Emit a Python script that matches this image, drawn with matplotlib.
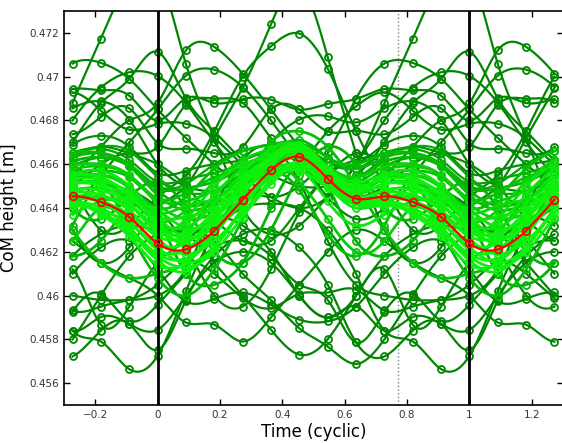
import numpy as np
import matplotlib
matplotlib.use("Agg")
from matplotlib import pyplot as plt

# phase samples per cycle: k/11, k = 0..10 ; plot runs over k = -3..14
n_phase = 11
k_first, k_last = -3, 14

# red mean trajectory (CoM height, m)
mean_com = [0.46238, 0.46211, 0.46297, 0.46438, 0.46572, 0.46633,
            0.46534, 0.46443, 0.46453, 0.46427, 0.46359]

# bright cluster of cycles close to the mean
band_curves = [
    [0.4629, 0.4629, 0.4636, 0.4647, 0.4658, 0.4663, 0.4655, 0.4648, 0.4651, 0.4650, 0.4642],
    [0.4619, 0.4617, 0.4628, 0.4644, 0.4654, 0.4657, 0.4649, 0.4642, 0.4642, 0.4638, 0.4630],
    [0.4636, 0.4636, 0.4640, 0.4649, 0.4657, 0.4660, 0.4651, 0.4646, 0.4651, 0.4652, 0.4647],
    [0.4644, 0.4643, 0.4648, 0.4654, 0.4660, 0.4663, 0.4655, 0.4650, 0.4657, 0.4659, 0.4655],
    [0.4626, 0.4619, 0.4625, 0.4638, 0.4653, 0.4661, 0.4653, 0.4645, 0.4647, 0.4646, 0.4639],
    [0.4649, 0.4649, 0.4652, 0.4658, 0.4663, 0.4665, 0.4657, 0.4654, 0.4661, 0.4663, 0.4659],
    [0.4616, 0.4611, 0.4622, 0.4640, 0.4656, 0.4665, 0.4656, 0.4645, 0.4643, 0.4638, 0.4629],
    [0.4639, 0.4631, 0.4634, 0.4644, 0.4655, 0.4658, 0.4643, 0.4632, 0.4637, 0.4643, 0.4644],
    [0.4632, 0.4633, 0.4646, 0.4658, 0.4665, 0.4666, 0.4651, 0.4640, 0.4643, 0.4645, 0.4641],
    [0.4652, 0.4653, 0.4656, 0.4660, 0.4665, 0.4668, 0.4661, 0.4658, 0.4665, 0.4667, 0.4662],
    [0.4627, 0.4627, 0.4639, 0.4654, 0.4663, 0.4665, 0.4652, 0.4642, 0.4644, 0.4643, 0.4637],
    [0.4621, 0.4621, 0.4634, 0.4650, 0.4662, 0.4666, 0.4657, 0.4650, 0.4649, 0.4643, 0.4634],
    [0.4642, 0.4635, 0.4638, 0.4648, 0.4659, 0.4666, 0.4659, 0.4654, 0.4659, 0.4660, 0.4655],
    [0.4634, 0.4639, 0.4652, 0.4662, 0.4667, 0.4667, 0.4653, 0.4645, 0.4648, 0.4649, 0.4644],
    [0.4614, 0.4615, 0.4628, 0.4646, 0.4661, 0.4669, 0.4658, 0.4646, 0.4643, 0.4637, 0.4627],
    [0.4646, 0.4639, 0.4642, 0.4650, 0.4661, 0.4669, 0.4663, 0.4660, 0.4665, 0.4665, 0.4659],
    [0.4630, 0.4625, 0.4632, 0.4643, 0.4654, 0.4659, 0.4650, 0.4644, 0.4648, 0.4648, 0.4642],
    [0.4638, 0.4641, 0.4644, 0.4652, 0.4661, 0.4664, 0.4655, 0.4649, 0.4654, 0.4655, 0.4649],
    [0.4654, 0.4647, 0.4648, 0.4656, 0.4665, 0.4669, 0.4659, 0.4654, 0.4663, 0.4668, 0.4666],
    [0.4624, 0.4624, 0.4636, 0.4652, 0.4663, 0.4666, 0.4654, 0.4644, 0.4645, 0.4643, 0.4636],
    [0.4618, 0.4613, 0.4620, 0.4636, 0.4651, 0.4659, 0.4651, 0.4643, 0.4643, 0.4640, 0.4631],
    [0.4640, 0.4645, 0.4658, 0.4666, 0.4669, 0.4668, 0.4656, 0.4649, 0.4653, 0.4655, 0.4650],
    [0.4633, 0.4626, 0.4631, 0.4642, 0.4656, 0.4665, 0.4658, 0.4652, 0.4655, 0.4654, 0.4646],
    [0.4648, 0.4641, 0.4644, 0.4654, 0.4665, 0.4671, 0.4663, 0.4658, 0.4663, 0.4665, 0.4660],
    [0.4628, 0.4635, 0.4650, 0.4660, 0.4663, 0.4663, 0.4650, 0.4642, 0.4645, 0.4645, 0.4639],
    [0.4636, 0.4627, 0.4632, 0.4646, 0.4661, 0.4665, 0.4653, 0.4648, 0.4655, 0.4657, 0.4650],
    [0.4644, 0.4647, 0.4654, 0.4658, 0.4663, 0.4665, 0.4653, 0.4648, 0.4655, 0.4657, 0.4654],
    [0.4622, 0.4615, 0.4622, 0.4640, 0.4659, 0.4667, 0.4655, 0.4642, 0.4641, 0.4639, 0.4633],
    [0.4632, 0.4623, 0.4628, 0.4646, 0.4663, 0.4669, 0.4657, 0.4650, 0.4653, 0.4653, 0.4646],
    [0.4650, 0.4651, 0.4660, 0.4666, 0.4669, 0.4669, 0.4657, 0.4652, 0.4659, 0.4663, 0.4660],
    [0.4656, 0.4657, 0.4660, 0.4662, 0.4667, 0.4669, 0.4661, 0.4660, 0.4669, 0.4673, 0.4668],
    [0.4634, 0.4631, 0.4642, 0.4656, 0.4667, 0.4669, 0.4657, 0.4648, 0.4651, 0.4651, 0.4645],
]

# darker cycles far from the mean
outlier_curves = [
    [0.4748, 0.47058, 0.4672, 0.4640, 0.4628, 0.4632, 0.4645, 0.4660, 0.4688, 0.47173, 0.4745],
    [0.4640, 0.4650, 0.4672, 0.4695, 0.4724, 0.4742, 0.4709, 0.4665, 0.4630, 0.4615, 0.4622],
    [0.4645, 0.4655, 0.4675, 0.4700, 0.47139, 0.47197, 0.47037, 0.4675, 0.4650, 0.4630, 0.4632],
    [0.4685, 0.4672, 0.4660, 0.4650, 0.4645, 0.4650, 0.4665, 0.4690, 0.4706, 0.47063, 0.4699],
    [0.47113, 0.4690, 0.4675, 0.4662, 0.4655, 0.4650, 0.4650, 0.4655, 0.4670, 0.4688, 0.4699],
    [0.4688, 0.4712, 0.47136, 0.47014, 0.4685, 0.4668, 0.4655, 0.4648, 0.4655, 0.4668, 0.4680],
    [0.4685, 0.47005, 0.47032, 0.46953, 0.4680, 0.4662, 0.4645, 0.4635, 0.4640, 0.4655, 0.4670],
    [0.47003, 0.4688, 0.4670, 0.4655, 0.4645, 0.4640, 0.4645, 0.4660, 0.4680, 0.4695, 0.4702],
    [0.4680, 0.46901, 0.4688, 0.46898, 0.46895, 0.4685, 0.46875, 0.46898, 0.46944, 0.46938, 0.46913],
    [0.4668, 0.46872, 0.4690, 0.4688, 0.4672, 0.4660, 0.4650, 0.4645, 0.4650, 0.4660, 0.4665],
    [0.4660, 0.4650, 0.4648, 0.4655, 0.4670, 0.46804, 0.46819, 0.46791, 0.46855, 0.46887, 0.46804],
    [0.46784, 0.46785, 0.4672, 0.4660, 0.4655, 0.4660, 0.4675, 0.46864, 0.46928, 0.46845, 0.46758],
    [0.46697, 0.46671, 0.4665, 0.4668, 0.4685, 0.4685, 0.4675, 0.46753, 0.46737, 0.46816, 0.46855],
    [0.45725, 0.4602, 0.4628, 0.4640, 0.4642, 0.4640, 0.4630, 0.4610, 0.4584, 0.4579, 0.45664],
    [0.45752, 0.4598, 0.4618, 0.4628, 0.4630, 0.4622, 0.4605, 0.45786, 0.45722, 0.4584, 0.4587],
    [0.4630, 0.4628, 0.4615, 0.4600, 0.45844, 0.4573, 0.4580, 0.4600, 0.4618, 0.4628, 0.4632],
    [0.4628, 0.4630, 0.4625, 0.4610, 0.4598, 0.4585, 0.45767, 0.45688, 0.4580, 0.4600, 0.4618],
    [0.4600, 0.45877, 0.45867, 0.4579, 0.4590, 0.4605, 0.4620, 0.4630, 0.4625, 0.4615, 0.4608],
    [0.4612, 0.45973, 0.45985, 0.46014, 0.45958, 0.4589, 0.45882, 0.4595, 0.4610, 0.4622, 0.4625],
    [0.4605, 0.4615, 0.4610, 0.45989, 0.45943, 0.46008, 0.46014, 0.46027, 0.45932, 0.4595, 0.45981],
    [0.45958, 0.4610, 0.4622, 0.4625, 0.4618, 0.4605, 0.4598, 0.45786, 0.45925, 0.46008, 0.45886],
    [0.45844, 0.4600, 0.4615, 0.4620, 0.4615, 0.4600, 0.4590, 0.4595, 0.4584, 0.45902, 0.4587],
    [0.4615, 0.4625, 0.4635, 0.4632, 0.4620, 0.4600, 0.4590, 0.4600, 0.4612, 0.45867, 0.4595],
    [0.4660, 0.4650, 0.4635, 0.4625, 0.4625, 0.4640, 0.4655, 0.4662, 0.4665, 0.4668, 0.4665],
    [0.4610, 0.4615, 0.4630, 0.4650, 0.4670, 0.4675, 0.4668, 0.4650, 0.4630, 0.4615, 0.4608],
    [0.4635, 0.4610, 0.4605, 0.4615, 0.4640, 0.4660, 0.4650, 0.4625, 0.4618, 0.4625, 0.4640],
    [0.4652, 0.4640, 0.4620, 0.4615, 0.4630, 0.4655, 0.4668, 0.4660, 0.4640, 0.4635, 0.4645],
    [0.4618, 0.4628, 0.4645, 0.4658, 0.4662, 0.4652, 0.4635, 0.4620, 0.4625, 0.4640, 0.4632],
    [0.4608, 0.4600, 0.4612, 0.4635, 0.4655, 0.4648, 0.4628, 0.4618, 0.4632, 0.4650, 0.4630],
    [0.4640, 0.4622, 0.4600, 0.4595, 0.4612, 0.4638, 0.4655, 0.4665, 0.4660, 0.4652, 0.4648],
    [0.4600, 0.4612, 0.4640, 0.4662, 0.4668, 0.4652, 0.4625, 0.4605, 0.4600, 0.4598, 0.4598],
]

x_ticks = [-0.2, 0, 0.2, 0.4, 0.6, 0.8, 1, 1.2]
x_tick_labels = ['\u22120.2', '0', '0.2', '0.4', '0.6', '0.8', '1', '1.2']
y_ticks = [0.456, 0.458, 0.46, 0.462, 0.464, 0.466, 0.468, 0.47, 0.472]
y_tick_labels = ['0.456', '0.458', '0.46', '0.462', '0.464', '0.466', '0.468', '0.47', '0.472']
toe_off = 0.77


def periodic_spline(vals, t):
    # periodic cubic spline through the samples at k/n
    y = np.asarray(vals, float)
    n = len(y)
    h = 1.0 / n
    A = 4 * np.eye(n) + np.roll(np.eye(n), 1, axis=1) + np.roll(np.eye(n), -1, axis=1)
    rhs = 6 / h**2 * (np.roll(y, 1) - 2 * y + np.roll(y, -1))
    M = np.linalg.solve(A, rhs)
    tt = np.mod(t, 1.0)
    i = np.floor(tt / h).astype(int) % n
    j = (i + 1) % n
    b = (tt - i * h) / h
    a = 1 - b
    return a * y[i] + b * y[j] + ((a**3 - a) * M[i] + (b**3 - b) * M[j]) * h**2 / 6


t_fine = np.linspace(k_first / n_phase, k_last / n_phase, 700)
k_mark = np.arange(k_first, k_last + 1)
t_mark = k_mark / n_phase

bright = np.array([0.05, 0.95, 0.05])
dark = np.array([0.0, 0.53, 0.0])
mean_arr = np.array(mean_com)

curves = band_curves + outlier_curves
devs = [np.sqrt(np.mean((np.array(c) - mean_arr) ** 2)) for c in curves]
order = np.argsort(devs)[::-1]

fig = plt.figure(figsize=(5.62, 4.43), dpi=100)
ax = fig.add_axes([64 / 562, 38 / 443, (563 - 64) / 562, (405 - 11) / 443])

ax.axvline(toe_off, color='0.5', ls=':', lw=1, zorder=0)

for idx in order:
    c = curves[idx]
    f = np.clip((devs[idx] - 0.0006) / 0.0020, 0, 1)
    col = bright * (1 - f) + dark * f
    lw = 1.6 if f > 0.6 else 2.0
    ax.plot(t_fine, periodic_spline(c, t_fine), color=col, lw=lw, zorder=2)
    ax.plot(t_mark, np.array(c)[k_mark % n_phase], ls='none', marker='o', ms=5,
            mfc='none', mec=col, mew=1.3, zorder=2)

ax.axvline(0, color='k', lw=2, zorder=3)
ax.axvline(1, color='k', lw=2, zorder=3)

ax.plot(t_fine, periodic_spline(mean_com, t_fine), color='red', lw=1.6, zorder=4)
ax.plot(t_mark, mean_arr[k_mark % n_phase], ls='none', marker='o', ms=5.5,
        mfc='none', mec='red', mew=1.3, zorder=4)

ax.set_xlim(-0.3, 1.3)
ax.set_ylim(0.455, 0.473)
ax.set_xticks(x_ticks)
ax.set_xticklabels(x_tick_labels)
ax.set_yticks(y_ticks)
ax.set_yticklabels(y_tick_labels)
ax.tick_params(direction='in', length=4, width=1, labelsize=7.5, colors='k',
               top=True, right=True, labelcolor='#333333')
for s in ax.spines.values():
    s.set_linewidth(1.2)
ax.set_xlabel('Time (cyclic)', fontsize=12, labelpad=2)
ax.set_ylabel('CoM height [m]', fontsize=12, labelpad=8)

fig.savefig('out.png', dpi=100)
